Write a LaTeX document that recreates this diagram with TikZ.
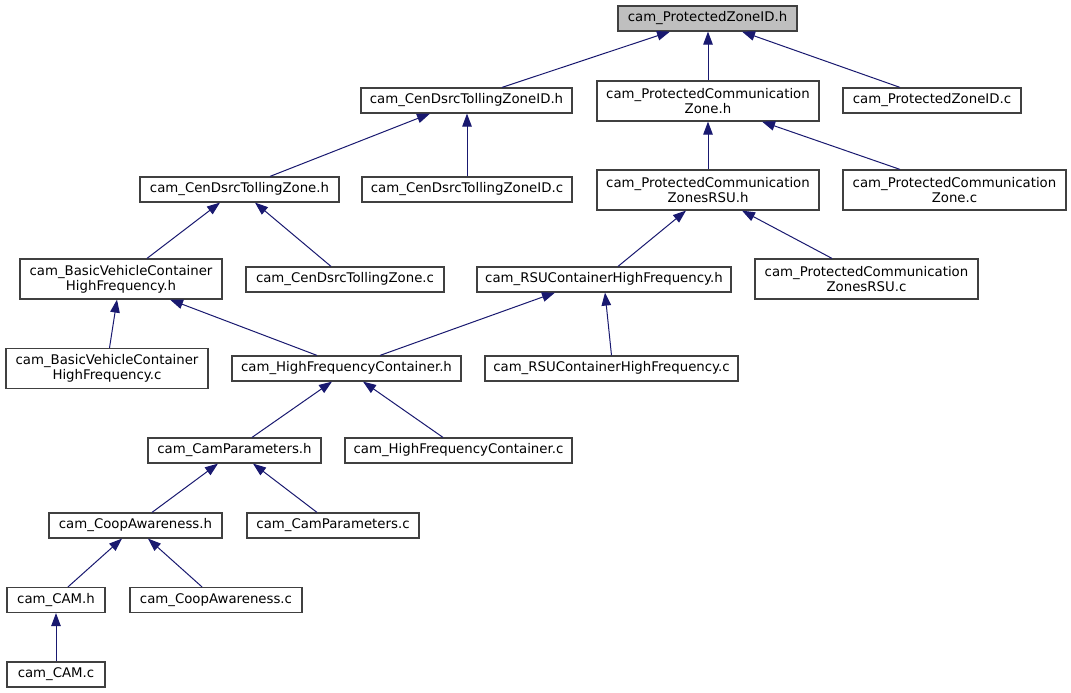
\documentclass[tikz,border=0pt]{standalone}
\usepackage{fontspec}
\setmainfont{DejaVu Sans}
\usetikzlibrary{arrows.meta}
\definecolor{edgeblue}{HTML}{191970}
\definecolor{boxline}{HTML}{404040}
\definecolor{rootfill}{HTML}{BFBFBF}
\begin{document}
\begin{tikzpicture}[x=1pt,y=-1pt,
  box/.style={draw=boxline, line width=1.2pt, fill=white, inner sep=0pt,
    minimum height=25pt, align=center, font=\fontsize{13.3}{15}\selectfont},
  tall/.style={minimum height=40pt},
  edge/.style={draw=edgeblue, line width=1pt,
    -{Triangle[length=13pt,width=9.5pt]}}]
\useasboundingbox[fill=white] (0,0) rectangle (1071,693);

\node[box, fill=rootfill, minimum width=179pt] (zidh) at (707.5,18.5) {cam\_ProtectedZoneID.h};
\node[box, minimum width=211pt] (czidh) at (466.5,100.5) {cam\_CenDsrcTollingZoneID.h};
\node[box, tall, minimum width=222pt] (pczh) at (708,101) {cam\_ProtectedCommunication\\Zone.h};
\node[box, minimum width=178pt] (zidc) at (932,100.5) {cam\_ProtectedZoneID.c};
\node[box, minimum width=199pt] (czh) at (239.5,189.5) {cam\_CenDsrcTollingZone.h};
\node[box, minimum width=210pt] (czidc) at (467,189.5) {cam\_CenDsrcTollingZoneID.c};
\node[box, tall, minimum width=222pt] (pczrsuh) at (708,190) {cam\_ProtectedCommunication\\ZonesRSU.h};
\node[box, tall, minimum width=223pt] (pczc) at (954.5,190) {cam\_ProtectedCommunication\\Zone.c};
\node[box, tall, minimum width=202pt] (bvh) at (121,279) {cam\_BasicVehicleContainer\\HighFrequency.h};
\node[box, minimum width=198pt] (czc) at (345,279.5) {cam\_CenDsrcTollingZone.c};
\node[box, minimum width=254pt] (rsuh) at (604,279.5) {cam\_RSUContainerHighFrequency.h};
\node[box, tall, minimum width=223pt] (pczrsuc) at (866.5,279) {cam\_ProtectedCommunication\\ZonesRSU.c};
\node[box, tall, minimum width=202pt] (bvc) at (107,368.5) {cam\_BasicVehicleContainer\\HighFrequency.c};
\node[box, minimum width=229pt] (hfh) at (346.5,368.5) {cam\_HighFrequencyContainer.h};
\node[box, minimum width=253pt] (rsuc) at (611.5,368.5) {cam\_RSUContainerHighFrequency.c};
\node[box, minimum width=173pt] (cph) at (234.5,450.5) {cam\_CamParameters.h};
\node[box, minimum width=227pt] (hfc) at (458.5,450.5) {cam\_HighFrequencyContainer.c};
\node[box, minimum width=173pt] (cah) at (135.5,525.5) {cam\_CoopAwareness.h};
\node[box, minimum width=172pt] (cpc) at (333,525.5) {cam\_CamParameters.c};
\node[box, minimum width=98pt] (camh) at (56,600) {cam\_CAM.h};
\node[box, minimum width=172pt] (cac) at (216,600) {cam\_CoopAwareness.c};
\node[box, minimum width=98pt] (camc) at (56,674.5) {cam\_CAM.c};

\draw[edge] ([xshift=35.5pt]czidh.north) -- ([xshift=-37.5pt]zidh.south);
\draw[edge] (pczh.north) -- (pczh.north |- zidh.south);
\draw[edge] ([xshift=-32pt]zidc.north) -- ([xshift=34.5pt]zidh.south);
\draw[edge] ([xshift=30.5pt]czh.north) -- ([xshift=-36.5pt]czidh.south);
\draw[edge] (czidc.north) -- (czidc.north |- czidh.south);
\draw[edge] (pczrsuh.north) -- (pczrsuh.north |- pczh.south);
\draw[edge] ([xshift=-54.5pt]pczc.north) -- ([xshift=54pt]pczh.south);
\draw[edge] ([xshift=26pt]bvh.north) -- ([xshift=-19.5pt]czh.south);
\draw[edge] ([xshift=-14pt]czc.north) -- ([xshift=15.5pt]czh.south);
\draw[edge] ([xshift=14pt]rsuh.north) -- ([xshift=-22pt]pczrsuh.south);
\draw[edge] ([xshift=-34.5pt]pczrsuc.north) -- ([xshift=34pt]pczrsuh.south);
\draw[edge] ([xshift=2.5pt]bvc.north) -- ([xshift=-4pt]bvh.south);
\draw[edge] ([xshift=-29.5pt]hfh.north) -- ([xshift=49pt]bvh.south);
\draw[edge] ([xshift=33.5pt]hfh.north) -- ([xshift=-49pt]rsuh.south);
\draw[edge] (rsuc.north) -- ([xshift=1pt]rsuh.south);
\draw[edge] ([xshift=17.5pt]cph.north) -- ([xshift=-14.5pt]hfh.south);
\draw[edge] ([xshift=-15.5pt]hfc.north) -- ([xshift=16.5pt]hfh.south);
\draw[edge] ([xshift=16.5pt]cah.north) -- ([xshift=-16.5pt]cph.south);
\draw[edge] ([xshift=-16pt]cpc.north) -- ([xshift=18.5pt]cph.south);
\draw[edge] ([xshift=12pt]camh.north) -- ([xshift=-13.5pt]cah.south);
\draw[edge] ([xshift=-14pt]cac.north) -- ([xshift=12.5pt]cah.south);
\draw[edge] (camc.north) -- (camh.south);
\end{tikzpicture}
\end{document}
